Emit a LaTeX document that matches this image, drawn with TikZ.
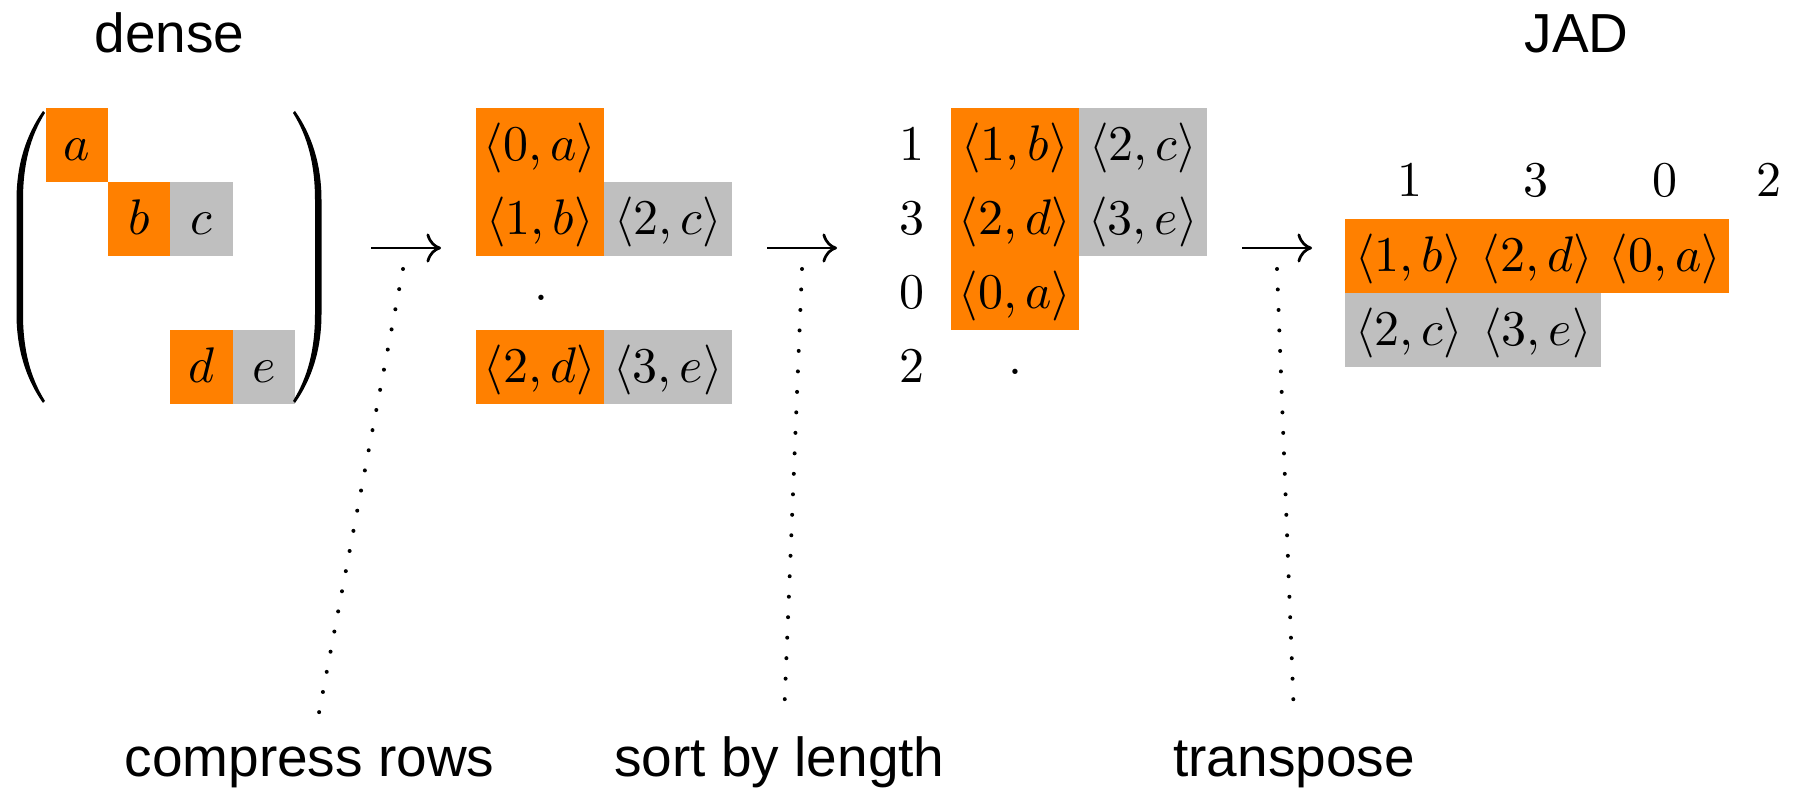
\documentclass[tikz,border=0pt]{standalone}
\usepackage{fontspec}
\newfontfamily\labelfont{Liberation Sans}
\usetikzlibrary{arrows.meta}
\definecolor{cellorange}{RGB}{255,128,0}
\definecolor{cellgray}{RGB}{191,191,191}
\begin{document}
\begin{tikzpicture}[x=0.2pt,y=-0.2pt,
  entry/.style={inner sep=0pt, text height=8pt, text depth=1.6pt},
  cellbase/.style={entry, minimum height=14.8pt},
  smallcell/.style={cellbase, minimum width=12.45pt},
  widecell/.style={cellbase, minimum width=25.6pt},
  key/.style={fill=cellorange},
  val/.style={fill=cellgray},
  caption/.style={font=\labelfont\fontsize{11}{13}\selectfont, anchor=base, inner sep=0pt},
  steparrow/.style={line width=0.55pt, -{Computer Modern Rightarrow[length=2.9pt,width=5.8pt]}},
  guide/.style={line width=0.8pt, line cap=round, dash pattern=on 0pt off 4.1pt},
  gapdot/.style={anchor=base, inner sep=0pt},
  paren/.style={fill=black, draw=none}
]
\useasboundingbox (0,0) rectangle (1799,794);

% titles
\node[caption] (tdense) at (169.5,53) {dense};
\node[caption] (tjad) at (1576.5,53) {JAD};

% dense matrix
\node[smallcell,key] (ma) at (77.1,145) {$a$};
\node[smallcell,key] (mb) at (139.4,219) {$b$};
\node[smallcell,val] (mc) at (201.6,219) {$c$};
\node[smallcell,key] (md) at (201.6,367) {$d$};
\node[smallcell,val] (me) at (263.9,367) {$e$};
% parentheses
\fill[paren] (43,111) .. controls (26,135) and (16.5,165) .. (16.5,200) -- (16.5,314)
  .. controls (16.5,349) and (26,379) .. (43,403) -- (45,401)
  .. controls (30,377) and (23,349) .. (23,314) -- (23,200)
  .. controls (23,165) and (30,137) .. (45,113) -- cycle;
\fill[paren] (295,111) .. controls (312,135) and (321.5,165) .. (321.5,200) -- (321.5,314)
  .. controls (321.5,349) and (312,379) .. (295,403) -- (293,401)
  .. controls (308,377) and (315,349) .. (315,314) -- (315,200)
  .. controls (315,165) and (308,137) .. (293,113) -- cycle;

% compressed rows
\node[widecell,key] (c0a) at (540,145) {$\langle 0,a\rangle$};
\node[widecell,key] (c1b) at (540,219) {$\langle 1,b\rangle$};
\node[widecell,val] (c2c) at (668,219) {$\langle 2,c\rangle$};
\node[gapdot] (cgap) at (541,301) {.};
\node[widecell,key] (c2d) at (540,367) {$\langle 2,d\rangle$};
\node[widecell,val] (c3e) at (668,367) {$\langle 3,e\rangle$};

% rows sorted by length
\node[entry] (s1) at (912,145) {$1$};
\node[entry] (s3) at (912,219) {$3$};
\node[entry] (s0) at (912,293) {$0$};
\node[entry] (s2) at (912,367) {$2$};
\node[widecell,key] (s1b) at (1015,145) {$\langle 1,b\rangle$};
\node[widecell,val] (s2c) at (1143,145) {$\langle 2,c\rangle$};
\node[widecell,key] (s2d) at (1015,219) {$\langle 2,d\rangle$};
\node[widecell,val] (s3e) at (1143,219) {$\langle 3,e\rangle$};
\node[widecell,key] (s0a) at (1015,293) {$\langle 0,a\rangle$};
\node[gapdot] (sgap) at (1015,375) {.};

% jagged diagonals
\node[entry] (j1) at (1410,181) {$1$};
\node[entry] (j3) at (1536,181) {$3$};
\node[entry] (j0) at (1665,181) {$0$};
\node[entry] (j2) at (1769,181) {$2$};
\node[widecell,key] (j1b) at (1409,256) {$\langle 1,b\rangle$};
\node[widecell,key] (j2d) at (1537,256) {$\langle 2,d\rangle$};
\node[widecell,key] (j0a) at (1665,256) {$\langle 0,a\rangle$};
\node[widecell,val] (j2c) at (1409,330) {$\langle 2,c\rangle$};
\node[widecell,val] (j3e) at (1537,330) {$\langle 3,e\rangle$};

% step arrows
\coordinate (a1s) at (371,248);
\coordinate (a1e) at (441,248);
\coordinate (a2s) at (767,248);
\coordinate (a2e) at (837,248);
\coordinate (a3s) at (1242,248);
\coordinate (a3e) at (1312,248);
\draw[steparrow] (a1s) -- (a1e);
\draw[steparrow] (a2s) -- (a2e);
\draw[steparrow] (a3s) -- (a3e);

% step captions
\node[caption] (lcompress) at (309.5,777) {compress rows};
\node[caption] (lsort) at (779.5,777) {sort by length};
\node[caption] (ltrans) at (1294,777) {transpose};

% guides from arrows to captions
\coordinate (g1t) at (403,269);
\coordinate (g1b) at (318,718);
\coordinate (g2t) at (802,269);
\coordinate (g2b) at (784,718);
\coordinate (g3t) at (1277,269);
\coordinate (g3b) at (1294,718);
\draw[guide] (g1t) -- (g1b);
\draw[guide] (g2t) -- (g2b);
\draw[guide] (g3t) -- (g3b);
\end{tikzpicture}
\end{document}
